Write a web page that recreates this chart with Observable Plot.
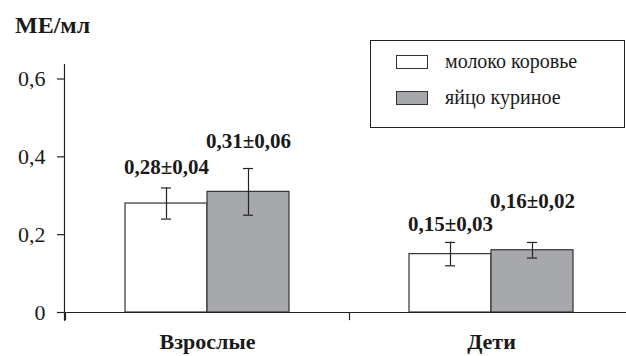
<!DOCTYPE html>
<html>
<head>
<meta charset="utf-8">
<script src="https://cdn.jsdelivr.net/npm/d3@7"></script>
<script src="https://cdn.jsdelivr.net/npm/@observablehq/plot@0.6"></script>
<style>
  html, body { margin: 0; padding: 0; background: #fff; }
  #wrap { position: relative; width: 626px; height: 356px; overflow: hidden; font-family: "Liberation Serif", "Times New Roman", Tinos, "DejaVu Serif", serif; color: #1a1a1a; }
  #wrap svg text { font-family: "Liberation Serif", "Times New Roman", Tinos, "DejaVu Serif", serif; }
  #title { position: absolute; left: 15px; top: 12px; font-weight: bold; font-size: 24px; }
  #legend { position: absolute; left: 370px; top: 40px; width: 253px; height: 86px; border: 1.4px solid #222; background: #fff; }
  .li { position: absolute; left: 25px; display: flex; align-items: center; font-size: 20px; }
  .sw { width: 32px; height: 14px; border: 1.2px solid #333; margin-right: 17px; box-sizing: border-box; }
</style>
</head>
<body>
<div id="wrap"></div>
<script>
const categories = ["Взрослые", "Дети"];
const series = ["молоко коровье", "яйцо куриное"];
const seriesColors = ["#ffffff", "#a7a8ab"];
const means = [[0.28, 0.31], [0.15, 0.16]];
const errors = [[0.04, 0.06], [0.03, 0.02]];
const labels = [["0,28±0,04", "0,31±0,06"], ["0,15±0,03", "0,16±0,02"]];
const labelLevel = [[0.374, 0.44], [0.227, 0.287]];
const yTicks = [0, 0.2, 0.4, 0.6];
const yTitle = "МЕ/мл";

const FONT = "'Liberation Serif', 'Times New Roman', Tinos, 'DejaVu Serif', serif";

const rows = [];
categories.forEach((c, i) => series.forEach((s, j) => rows.push({
  cat: c, s: j, mean: means[i][j], err: errors[i][j], label: labels[i][j], ly: labelLevel[i][j]
})));

const STEP = 284, OUT = 60, BW = 82, CAP = 5;
const marks = [];
series.forEach((s, j) => {
  const d = rows.filter(r => r.s === j);
  const c = OUT + BW * j + BW / 2;
  marks.push(Plot.barY(d, {x: "cat", y: "mean", fill: seriesColors[j], stroke: "#333", strokeWidth: 1.2,
    insetLeft: OUT + BW * j, insetRight: STEP - OUT - BW * (j + 1)}));
  marks.push(Plot.ruleX(d, {x: "cat", y1: r => r.mean - r.err, y2: r => r.mean + r.err, dx: c - STEP / 2, stroke: "#222", strokeWidth: 1.2}));
  marks.push(Plot.tickY(d, {x: "cat", y: r => r.mean - r.err, stroke: "#222", strokeWidth: 1.2, insetLeft: c - CAP, insetRight: STEP - c - CAP}));
  marks.push(Plot.tickY(d, {x: "cat", y: r => r.mean + r.err, stroke: "#222", strokeWidth: 1.2, insetLeft: c - CAP, insetRight: STEP - c - CAP}));
  marks.push(Plot.text(d, {x: "cat", y: "ly", text: "label", dx: c - STEP / 2, fontWeight: "bold", fontSize: 21, fill: "#1a1a1a"}));
});

const chart = Plot.plot({
  width: 626, height: 356,
  marginLeft: 64, marginRight: 0, marginTop: 64, marginBottom: 36,
  style: {fontFamily: FONT, background: "#fff", color: "#1a1a1a", overflow: "visible"},
  x: {type: "band", domain: categories, range: [64, 633], padding: 0, label: null},
  y: {domain: [0, 0.6], range: [312, 78.5], label: null},
  marks: [
    ...marks,
    Plot.frame({anchor: "left", stroke: "#222", strokeWidth: 1.2}),
    Plot.ruleY([0], {stroke: "#222", strokeWidth: 1.2, insetLeft: -7}),
    Plot.ruleX(categories, {x: d => d, y1: 0, y2: -0.021, dx: -STEP / 2, stroke: "#222", strokeWidth: 1.2}),
    Plot.axisY({ticks: yTicks, tickSize: 7, tickPadding: 12, fontSize: 22, stroke: "#222", strokeWidth: 1.2,
      tickFormat: d => d === 0 ? "0" : d.toFixed(1).replace(".", ",")}),
    Plot.axisX({tickSize: 0, tickPadding: 13, fontSize: 22, fontWeight: "bold"})
  ]
});

const wrap = document.getElementById("wrap");
wrap.appendChild(chart);
const t = document.createElement("div");
t.id = "title"; t.textContent = yTitle; wrap.appendChild(t);
const lg = document.createElement("div");
lg.id = "legend";
series.forEach((s, j) => {
  const it = document.createElement("div");
  it.className = "li"; it.style.top = (9 + j * 36) + "px";
  const sw = document.createElement("div");
  sw.className = "sw"; sw.style.background = seriesColors[j];
  const tx = document.createElement("span"); tx.textContent = s;
  it.appendChild(sw); it.appendChild(tx); lg.appendChild(it);
});
wrap.appendChild(lg);
</script>
</body>
</html>
